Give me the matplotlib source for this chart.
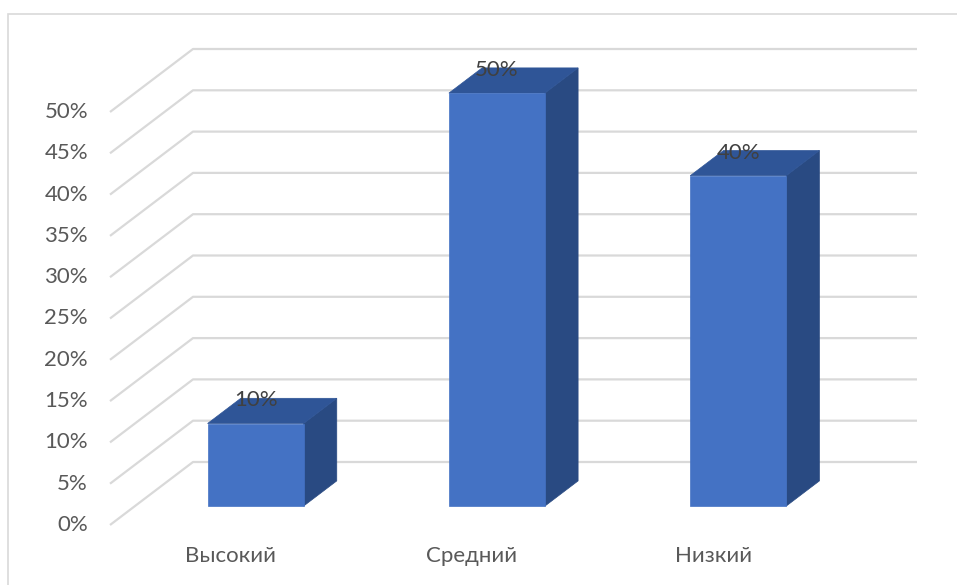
import matplotlib
matplotlib.use("Agg")
import matplotlib.pyplot as plt
from matplotlib.patches import Polygon, Rectangle

categories = ["Высокий", "Средний", "Низкий"]
values = [10, 50, 40]
ticks = [0, 5, 10, 15, 20, 25, 30, 35, 40, 45, 50]
tick_labels = [f"{t}%" for t in ticks]

plt.rcParams['font.family'] = ['Lato', 'DejaVu Sans']

W, H = 957, 585
fig = plt.figure(figsize=(W / 100, H / 100), dpi=100)

# front plane of the 3D box: x 110..834 px, 0% at y=525, 50% at y=112 (from top)
ax = fig.add_axes([110 / W, 60 / H, 724 / W, 413 / H])
ax.set_xlim(0, 3)
ax.set_ylim(0, 50)
ax.axis("off")

# depth of the box in data units (83 px right, 63 px up)
px_x = 724 / 3
px_y = 413 / 50
DX = 83 / px_x
DY = 63 / px_y


def pt(x, y, z):
    return (x + z * DX, y + z * DY)


grid_c = "#D9D9D9"
fs = 16
for t, lab in zip(ticks, tick_labels):
    xs, ys = zip(pt(0, t, 0), pt(0, t, 1), pt(3, t, 1))
    ax.plot(xs, ys, color=grid_c, lw=1.6, clip_on=False, zorder=1,
            solid_capstyle="butt")
    ax.annotate(lab, (0, t), xytext=(-22, 0), textcoords="offset pixels",
                ha="right", va="center", fontsize=fs, color="#595959",
                annotation_clip=False)

bar_w = 96 / px_x
zf, zb = 0.3, 0.7
front_c, top_c, side_c = "#4472C4", "#2F5597", "#294A82"
for i, (cat, v) in enumerate(zip(categories, values)):
    c = i + 0.5
    x0, x1 = c - bar_w / 2, c + bar_w / 2
    front = [pt(x0, 0, zf), pt(x1, 0, zf), pt(x1, v, zf), pt(x0, v, zf)]
    side = [pt(x1, 0, zf), pt(x1, 0, zb), pt(x1, v, zb), pt(x1, v, zf)]
    top = [pt(x0, v, zf), pt(x1, v, zf), pt(x1, v, zb), pt(x0, v, zb)]
    for poly, col in [(side, side_c), (top, top_c), (front, front_c)]:
        ax.add_patch(Polygon(poly, closed=True, facecolor=col, edgecolor=col,
                             lw=0.5, clip_on=False, zorder=3))
    ax.annotate(f"{v}%", pt(c, v, zf), xytext=(0, 23), textcoords="offset pixels",
                ha="center", va="center", fontsize=fs, color="#404040",
                annotation_clip=False, zorder=5)
    ax.annotate(cat, (c, 0), xytext=(0, -31), textcoords="offset pixels",
                ha="center", va="center", fontsize=fs, color="#595959",
                annotation_clip=False)

# chart border (runs off the right and bottom edges)
fig.patches.append(Rectangle((8 / W, -0.1), 1.2, 1.1 - 14 / H,
                             transform=fig.transFigure, fill=False,
                             edgecolor="#D9D9D9", lw=1.2))

fig.savefig("out.png", dpi=100, facecolor="white")
